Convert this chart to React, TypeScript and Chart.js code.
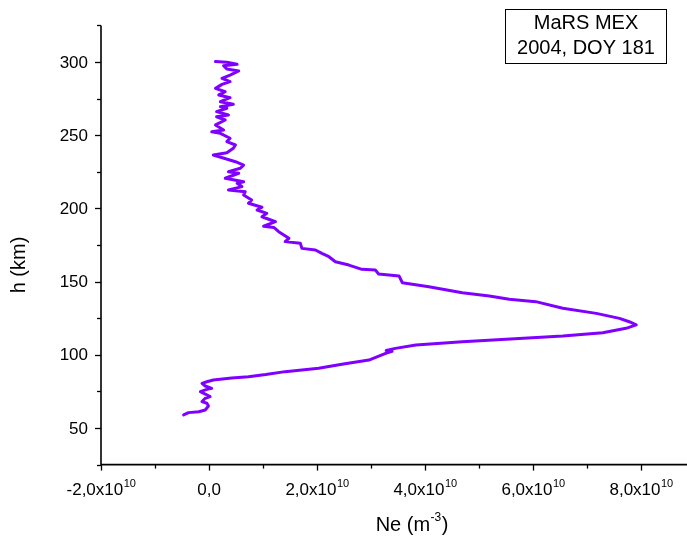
import React, { useEffect, useRef } from "react";
import { Chart, registerables } from "chart.js";

Chart.register(...registerables);

// Electron density profile, Ne in units of 1e10 m^-3, altitude in km
const NE_UNIT = 1e10;
const neValues: number[] = [
  -0.47, -0.38, -0.19, -0.07, -0.01, -0.04, -0.13, -0.07, 0.02, -0.07,
  -0.16, -0.04, 0.05, -0.07, -0.13, -0.04, 0.08, 0.42, 0.73, 1.05,
  1.41, 2.03, 2.46, 2.96, 3.27, 3.39, 3.28, 3.45, 3.83, 4.69,
  5.5, 6.55, 7.29, 7.72, 7.91, 7.78, 7.6, 7.17, 6.55, 6.05,
  5.56, 5.19, 4.69, 4.07, 3.58, 3.52, 3.14, 3.08, 2.83, 2.59,
  2.34, 2.22, 2.09, 1.97, 1.72, 1.69, 1.41, 1.48, 1.29, 1.2,
  1.01, 1.23, 0.98, 1.07, 0.89, 0.98, 0.73, 0.79, 0.64, 0.67,
  0.36, 0.61, 0.52, 0.64, 0.3, 0.55, 0.36, 0.58, 0.64, 0.49,
  0.08, 0.33, 0.45, 0.49, 0.33, 0.39, 0.21, 0.05, 0.27, 0.12,
  0.3, 0.14, 0.36, 0.14, 0.33, 0.21, 0.45, 0.21, 0.39, 0.18,
  0.3, 0.12, 0.24, 0.39, 0.24, 0.39, 0.55, 0.33, 0.27, 0.52,
  0.33, 0.12,
];
const altitudeKm: number[] = [
  58.9, 60.5, 61.1, 62.3, 65.0, 66.9, 68.0, 70.3, 71.4, 73.2,
  74.8, 76.4, 77.1, 78.7, 80.5, 81.6, 82.8, 84.2, 85.0, 86.5,
  88.5, 90.8, 93.5, 96.4, 101.0, 102.3, 102.9, 104.4, 106.7, 108.9,
  110.6, 112.8, 115.1, 118.1, 120.4, 122.6, 124.9, 128.3, 131.8, 136.3,
  137.9, 140.2, 142.4, 146.5, 149.2, 153.8, 155.2, 157.9, 158.4, 161.3,
  163.6, 167.0, 169.3, 171.6, 172.7, 176.2, 177.3, 179.6, 184.1, 187.0,
  187.8, 190.9, 194.3, 196.6, 198.9, 200.8, 203.5, 205.7, 209.2, 211.4,
  212.6, 214.9, 217.1, 218.2, 220.6, 224.0, 225.1, 227.4, 229.6, 231.9,
  236.5, 238.0, 241.1, 243.3, 245.6, 247.9, 251.3, 252.4, 253.5, 257.0,
  260.4, 262.6, 263.8, 266.1, 268.4, 269.5, 271.1, 272.9, 275.6, 277.5,
  279.7, 282.0, 284.7, 286.6, 288.8, 291.1, 293.9, 295.2, 297.5, 298.4,
  299.8, 300.3,
];

const xMajorTicks: number[] = [-2, 0, 2, 4, 6, 8];
const xMinorTicks: number[] = [-1, 1, 3, 5, 7];
const yMajorTicks: number[] = [50, 100, 150, 200, 250, 300];
const yMinorTicks: number[] = [25, 75, 125, 175, 225, 275, 325];

const X_MIN = -2 * NE_UNIT;
const X_MAX = 8.85 * NE_UNIT;
const Y_MIN = 25;
const Y_MAX = 325;

const legendLines: string[] = ["MaRS MEX", "2004, DOY 181"];
const yTitle = "h (km)";
const LINE_COLOR = "#8000ff";
const FONT = "Arial, 'Liberation Sans', sans-serif";

const axesPlugin = {
  id: "originAxes",
  afterDraw(chart: any) {
    const ctx: CanvasRenderingContext2D = chart.ctx;
    const xs = chart.scales.x;
    const ys = chart.scales.y;
    const area = chart.chartArea;
    ctx.save();
    ctx.strokeStyle = "#000";
    ctx.fillStyle = "#000";
    ctx.lineWidth = 1.6;
    // axis lines
    ctx.beginPath();
    ctx.moveTo(area.left, area.top);
    ctx.lineTo(area.left, area.bottom);
    ctx.lineTo(area.right, area.bottom);
    ctx.stroke();

    // y ticks
    ctx.lineWidth = 1.3;
    for (const v of yMajorTicks) {
      const p = Math.round(ys.getPixelForValue(v)) + 0.5;
      ctx.beginPath();
      ctx.moveTo(area.left, p);
      ctx.lineTo(area.left - 6, p);
      ctx.stroke();
    }
    for (const v of yMinorTicks) {
      const p = Math.round(ys.getPixelForValue(v)) + 0.5;
      ctx.beginPath();
      ctx.moveTo(area.left, p);
      ctx.lineTo(area.left - 4, p);
      ctx.stroke();
    }
    // x ticks
    for (const v of xMajorTicks) {
      const p = Math.round(xs.getPixelForValue(v * NE_UNIT)) + 0.5;
      ctx.beginPath();
      ctx.moveTo(p, area.bottom);
      ctx.lineTo(p, area.bottom + 6);
      ctx.stroke();
    }
    for (const v of xMinorTicks) {
      const p = Math.round(xs.getPixelForValue(v * NE_UNIT)) + 0.5;
      ctx.beginPath();
      ctx.moveTo(p, area.bottom);
      ctx.lineTo(p, area.bottom + 4);
      ctx.stroke();
    }

    // y tick labels
    ctx.font = `17px ${FONT}`;
    ctx.textAlign = "right";
    ctx.textBaseline = "middle";
    for (const v of yMajorTicks) {
      ctx.fillText(String(v), area.left - 13, ys.getPixelForValue(v) + 1);
    }

    // x tick labels with superscript exponent
    ctx.textAlign = "left";
    ctx.textBaseline = "alphabetic";
    const baseY = area.bottom + 30;
    for (const v of xMajorTicks) {
      const cx = xs.getPixelForValue(v * NE_UNIT);
      const mant = v.toFixed(1).replace(".", ",");
      if (v === 0) {
        ctx.font = `17px ${FONT}`;
        const w = ctx.measureText(mant).width;
        ctx.fillText(mant, cx - w / 2, baseY);
      } else {
        const main = mant + "x10";
        ctx.font = `17px ${FONT}`;
        const w1 = ctx.measureText(main).width;
        ctx.font = `11px ${FONT}`;
        const w2 = ctx.measureText("10").width;
        const start = cx - (w1 + w2) / 2;
        ctx.font = `17px ${FONT}`;
        ctx.fillText(main, start, baseY);
        ctx.font = `11px ${FONT}`;
        ctx.fillText("10", start + w1 + 0.5, baseY - 8);
      }
    }

    // x title: Ne (m^-3)
    {
      const cx = (xs.getPixelForValue(0) + xs.getPixelForValue(7.5 * NE_UNIT)) / 2;
      const y = area.bottom + 66;
      ctx.font = `20px ${FONT}`;
      const a = "Ne (m";
      const c = ")";
      const wa = ctx.measureText(a).width;
      const wc = ctx.measureText(c).width;
      ctx.font = `12px ${FONT}`;
      const wb = ctx.measureText("-3").width;
      const start = cx - (wa + wb + wc) / 2;
      ctx.font = `20px ${FONT}`;
      ctx.fillText(a, start, y);
      ctx.font = `12px ${FONT}`;
      ctx.fillText("-3", start + wa + 0.5, y - 10);
      ctx.font = `20px ${FONT}`;
      ctx.fillText(c, start + wa + wb + 1, y);
    }

    // y title
    ctx.save();
    ctx.translate(25, (area.top + area.bottom) / 2 + 20);
    ctx.rotate(-Math.PI / 2);
    ctx.font = `20px ${FONT}`;
    ctx.textAlign = "center";
    ctx.textBaseline = "alphabetic";
    ctx.fillText(yTitle, 0, 0);
    ctx.restore();

    // legend box
    const bx = 505.5, by = 9.5, bw = 161, bh = 54;
    ctx.fillStyle = "#fff";
    ctx.fillRect(bx, by, bw, bh);
    ctx.strokeStyle = "#000";
    ctx.lineWidth = 1;
    ctx.strokeRect(bx, by, bw, bh);
    ctx.fillStyle = "#000";
    ctx.font = `20px ${FONT}`;
    ctx.textAlign = "center";
    ctx.textBaseline = "middle";
    ctx.fillText(legendLines[0], bx + bw / 2, by + 13.5);
    ctx.fillText(legendLines[1], bx + bw / 2, by + 38.5);

    ctx.restore();
  },
};

export default function App() {
  const ref = useRef<HTMLCanvasElement | null>(null);
  useEffect(() => {
    if (!ref.current) return;
    const points = neValues.map((v, i) => ({ x: v * NE_UNIT, y: altitudeKm[i] }));
    const chart = new Chart(ref.current, {
      type: "scatter",
      data: {
        datasets: [
          {
            data: points,
            showLine: true,
            borderColor: LINE_COLOR,
            backgroundColor: LINE_COLOR,
            borderWidth: 3,
            pointRadius: 0,
            tension: 0,
            borderJoinStyle: "round",
            borderCapStyle: "round",
          } as any,
        ],
      },
      options: {
        responsive: false,
        animation: false,
        events: [],
        layout: { padding: { left: 101, right: 0, top: 25.4, bottom: 75.4 } },
        plugins: { legend: { display: false }, tooltip: { enabled: false } },
        scales: {
          x: { type: "linear", display: false, min: X_MIN, max: X_MAX },
          y: { type: "linear", display: false, min: Y_MIN, max: Y_MAX },
        },
      },
      plugins: [axesPlugin],
    });
    return () => chart.destroy();
  }, []);
  return (
    <div style={{ position: "fixed", left: 0, top: 0, width: 687, height: 540, background: "#fff" }}>
      <canvas ref={ref} width={687} height={540} style={{ display: "block" }} />
    </div>
  );
}
